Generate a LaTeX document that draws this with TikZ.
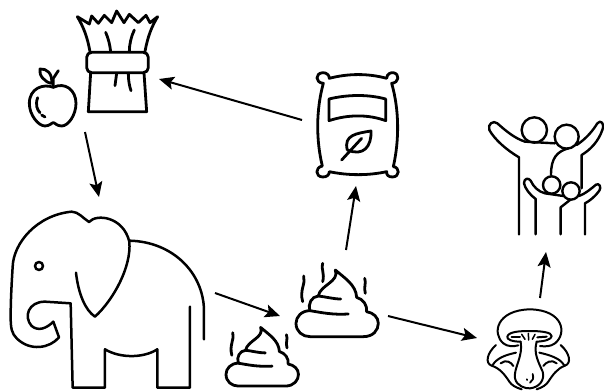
\documentclass[tikz,border=0pt]{standalone}
\usetikzlibrary{arrows.meta}
\tikzset{
  icon/.style={line width=2.8pt,line cap=round,line join=round},
  flow/.style={line width=2pt,-{Stealth[length=15pt,width=13pt,inset=3pt]}},
  zoomed/.style 2 args={xshift=#1pt,yshift=-#2pt,x=.3333pt,y=-.3333pt}
}
\newcommand{\poopshape}{%
  \draw (415,222) .. controls (370,225) and (335,218) .. (300,212)
    .. controls (275,212) and (258,230) .. (258,250)
    .. controls (258,275) and (278,290) .. (300,290) -- (460,290)
    .. controls (490,290) and (505,270) .. (505,250)
    .. controls (505,232) and (490,218) .. (470,215)
    .. controls (472,195) and (460,178) .. (440,172)
    .. controls (438,135) and (405,115) .. (376,90)
    .. controls (390,125) and (330,135) .. (325,168);
  \draw (300,212) .. controls (293,190) and (305,170) .. (325,168)
    .. controls (345,170) and (370,177) .. (392,177);
}
\begin{document}
\begin{tikzpicture}[x=1pt,y=-1pt]
\useasboundingbox (0,0) rectangle (604,391);
% sheaf
\begin{scope}[zoomed={0}{0},icon]
  \draw (270,155) .. controls (262,110) and (250,80) .. (232,50) -- (268,72) -- (275,48) -- (295,70) -- (313,46) -- (335,68) -- (350,33) -- (372,68) -- (388,43) -- (415,68) -- (438,46) -- (450,68) -- (473,50) .. controls (455,80) and (443,110) .. (435,155);
  \draw[rounded corners=5pt] (260,157) rectangle (445,218);
  \draw (272,218) -- (265,335) -- (440,335) -- (432,218);
  \draw (317,97) .. controls (325,115) and (330,135) .. (332,155);
  \draw (403,90) .. controls (393,110) and (388,135) .. (388,155);
  \draw (350,220) -- (345,257);
  \draw (385,220) .. controls (385,240) and (388,258) .. (393,272);
  % apple
  \draw (160,262) .. controls (130,250) and (88,265) .. (88,310) .. controls (88,345) and (115,378) .. (135,378) .. controls (150,378) and (155,368) .. (160,368) .. controls (165,368) and (170,378) .. (185,378) .. controls (205,378) and (228,345) .. (228,310) .. controls (228,270) and (195,245) .. (160,262);
  \draw (160,262) -- (160,235) -- (175,212);
  \draw (155,250) .. controls (135,248) and (115,225) .. (120,207) .. controls (140,205) and (158,220) .. (155,250);
  \draw (113,293) .. controls (105,315) and (112,330) .. (120,338);
  \draw (125,345) -- (135,351);
\end{scope}
% elephant
\begin{scope}[zoomed={0}{200},icon,line width=2.5pt]
  \draw (212,310) -- (135,305) .. controls (85,305) and (70,350) .. (95,378) .. controls (115,395) and (140,385) .. (160,365) -- (177,412) .. controls (150,445) and (90,455) .. (50,415) .. controls (35,400) and (32,385) .. (32,350) .. controls (32,300) and (35,250) .. (38,200) .. controls (40,130) and (110,45) .. (215,35) .. controls (235,35) and (250,55) .. (267,66) .. controls (290,40) and (370,50) .. (388,125) .. controls (395,200) and (340,300) .. (285,350) .. controls (255,330) and (235,280) .. (228,218);
  \draw (388,122) .. controls (520,125) and (610,220) .. (612,330) -- (612,418);
  \draw (212,310) -- (218,563) -- (315,563) -- (315,448) .. controls (360,475) and (430,475) .. (472,448) -- (472,563) -- (570,563) -- (570,320);
  \draw (117,198) circle[radius=12];
\end{scope}
% large dung
\begin{scope}[zoomed={210}{240},icon]
  \poopshape
  \draw (338,70) .. controls (332,85) and (345,100) .. (338,125);
  \draw (281,108) .. controls (288,130) and (268,150) .. (278,185);
  \draw (464,115) .. controls (470,130) and (460,140) .. (466,160);
\end{scope}
% small dung
\begin{scope}[xshift=210pt,yshift=-240pt,x=.2933pt,y=-.2933pt,icon]
  \begin{scope}[xshift=-59.67pt,yshift=-61pt]
  \poopshape
  \draw (281,108) .. controls (288,130) and (268,150) .. (278,185);
  \draw (464,115) .. controls (470,130) and (460,140) .. (466,160);
  \end{scope}
\end{scope}
% bag
\begin{scope}[zoomed={290}{60},icon]
  \draw (118,55) .. controls (175,40) and (235,40) .. (290,55)
    .. controls (290,40) and (305,37) .. (310,38) .. controls (330,42) and (328,68) .. (305,70)
    .. controls (328,150) and (328,240) .. (310,320)
    .. controls (330,322) and (330,350) .. (308,351) .. controls (295,351) and (289,345) .. (290,335)
    .. controls (235,347) and (175,347) .. (118,335)
    .. controls (118,345) and (110,351) .. (98,351) .. controls (75,350) and (75,322) .. (97,318)
    .. controls (78,240) and (78,150) .. (100,70)
    .. controls (75,68) and (75,40) .. (98,38) .. controls (110,38) and (118,45) .. (118,55) -- cycle;
  \draw (117,117) .. controls (175,103) and (235,103) .. (287,117) -- (287,182) .. controls (235,163) and (175,163) .. (117,182) -- cycle;
  \draw (155,300) -- (215,235);
  \draw (172,270) .. controls (160,225) and (200,220) .. (243,213) .. controls (245,260) and (220,290) .. (172,270);
\end{scope}
% people
\begin{scope}[zoomed={470}{100},icon,line width=2.4pt]
  \draw (193,90) circle[radius=38];
  \draw (290,110) circle[radius=36];
  \draw (245,255) circle[radius=26];
  \draw (303,273) circle[radius=26];
  \draw (147,403) -- (147,172) .. controls (110,150) and (75,120) .. (58,90) .. controls (52,72) and (70,60) .. (82,70) .. controls (110,95) and (135,115) .. (165,125) -- (255,130);
  \draw (295,145) .. controls (260,155) and (243,175) .. (243,225);
  \draw (320,135) .. controls (350,115) and (370,90) .. (382,70) .. controls (392,58) and (405,70) .. (397,90) .. controls (385,125) and (360,150) .. (335,165) -- (335,265);
  \draw (197,403) -- (197,297) .. controls (180,285) and (165,265) .. (162,250) .. controls (162,235) and (175,232) .. (182,242) .. controls (190,260) and (205,275) .. (225,280) -- (280,288);
  \draw (272,403) -- (272,322) -- (300,300);
  \draw (327,288) .. controls (345,282) and (365,265) .. (378,254) .. controls (388,248) and (395,262) .. (388,272) .. controls (375,290) and (360,302) .. (345,310) -- (345,403);
\end{scope}
% mushroom
\begin{scope}[zoomed={480}{300},icon,line width=2pt]
  \draw (70,130) .. controls (35,100) and (50,30) .. (150,28) .. controls (250,30) and (262,100) .. (225,130) .. controls (212,140) and (195,140) .. (180,138);
  \draw (70,130) .. controls (82,140) and (100,140) .. (115,136);
  \draw (122,125) .. controls (95,125) and (80,118) .. (82,110) .. controls (85,95) and (120,93) .. (148,93) .. controls (185,93) and (215,97) .. (215,108) .. controls (215,118) and (195,124) .. (170,125);
  \draw (122,125) .. controls (130,170) and (100,205) .. (105,235) .. controls (110,258) and (135,266) .. (150,265) .. controls (178,262) and (195,240) .. (188,215) .. controls (175,185) and (160,160) .. (170,125);
  \draw[line width=1.5pt] (125,103) -- (135,118);
  \draw[line width=1.5pt] (145,100) -- (146,120);
  \draw[line width=1.5pt] (165,103) -- (157,118);
  \draw (95,112) -- (120,112);
  \draw (172,112) -- (200,110);
  % left lobe
  \draw (48,135) .. controls (20,160) and (15,190) .. (35,197) .. controls (60,205) and (75,225) .. (88,245) .. controls (95,255) and (105,262) .. (125,268);
  \draw (38,195) .. controls (50,175) and (75,165) .. (108,158);
  \draw (62,190) .. controls (78,178) and (92,185) .. (100,198);
  % right lobe
  \draw (242,135) .. controls (270,160) and (275,190) .. (255,197) .. controls (232,205) and (218,225) .. (205,245) .. controls (198,255) and (188,262) .. (170,268);
  \draw (252,195) .. controls (240,175) and (210,165) .. (178,158);
  \draw (230,190) .. controls (215,178) and (200,185) .. (190,198);
  \draw[line width=1.8pt] (140,238) -- (142,240);
  \draw[line width=1.8pt] (158,222) .. controls (162,235) and (158,243) .. (150,248);
\end{scope}
% connectors
\coordinate (bagOut) at (302,120);
\coordinate (sheafIn) at (159,79);
\coordinate (appleOut) at (85,132);
\coordinate (elephantIn) at (99,197);
\coordinate (elephantOut) at (215,293);
\coordinate (dungIn) at (280,316);
\coordinate (dungUp) at (346,250);
\coordinate (bagIn) at (356,186);
\coordinate (dungOut) at (388,316);
\coordinate (mushIn) at (477,338);
\coordinate (mushOut) at (540,298);
\coordinate (peopleIn) at (546,252);
\draw[flow] (bagOut) -- (sheafIn);
\draw[flow] (appleOut) -- (elephantIn);
\draw[flow] (elephantOut) -- (dungIn);
\draw[flow] (dungUp) -- (bagIn);
\draw[flow] (dungOut) -- (mushIn);
\draw[flow] (mushOut) -- (peopleIn);
\end{tikzpicture}
\end{document}
